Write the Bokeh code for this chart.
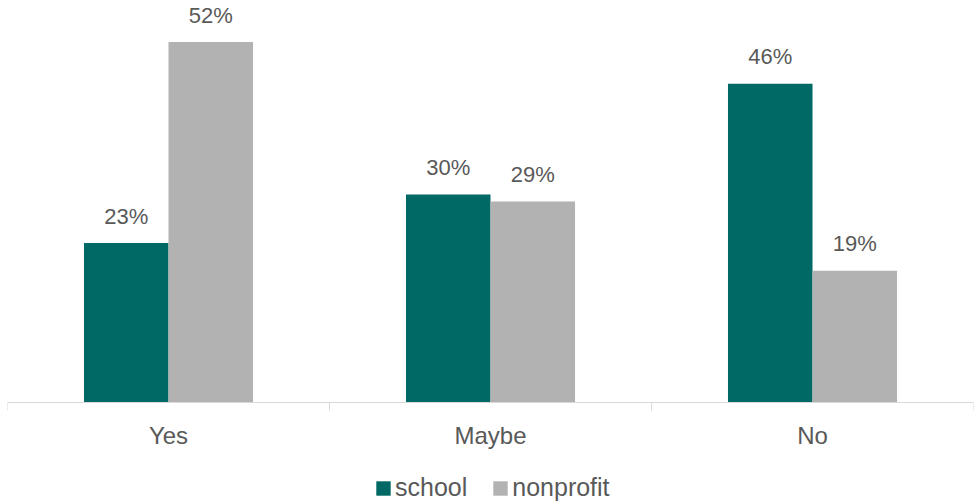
import numpy as np
from bokeh.plotting import figure
from bokeh.models import ColumnDataSource, FixedTicker, Range1d, Legend, LegendItem
from bokeh.core.properties import value
from bokeh.embed import file_html
from bokeh.resources import INLINE

categories = ["Yes", "Maybe", "No"]
school = [23, 30, 46]
nonprofit = [52, 29, 19]
school_labels = ["23%", "30%", "46%"]
nonprofit_labels = ["52%", "29%", "19%"]

TEAL = "#006865"
GRAY = "#B2B2B2"
TXT = "#595959"
FONT = "Liberation Sans"

centers = np.arange(len(categories)) + 0.5
bw = 0.2625
src_s = ColumnDataSource(dict(x=centers - bw / 2, top=school, lab=school_labels))
src_n = ColumnDataSource(dict(x=centers + bw / 2, top=nonprofit, lab=nonprofit_labels))

p = figure(width=974, height=502, output_backend="svg", toolbar_location=None,
           x_range=Range1d(0, len(categories)), y_range=Range1d(-14.43, 58),
           min_border_left=7, min_border_right=1, min_border_top=0, min_border_bottom=0)
p.outline_line_color = None
p.grid.visible = False
p.yaxis.visible = False
p.background_fill_color = "white"
p.border_fill_color = "white"

r1 = p.vbar(x="x", top="top", width=bw, source=src_s, fill_color=TEAL, line_color=None)
r2 = p.vbar(x="x", top="top", width=bw, source=src_n, fill_color=GRAY, line_color=None)

for src in (src_s, src_n):
    p.text(x="x", y="top", text="lab", source=src, text_align="center", text_baseline="alphabetic",
           y_offset=-27, text_font=value(FONT), text_font_size="22px", text_color=TXT)

ax = p.xaxis[0]
ax.fixed_location = 0
ax.ticker = FixedTicker(ticks=list(centers), minor_ticks=list(range(len(categories) + 1)))
ax.major_label_overrides = {float(c): cat for c, cat in zip(centers, categories)}
ax.major_tick_out = 0
ax.major_tick_in = 0
ax.minor_tick_out = 8
ax.minor_tick_in = 0
ax.minor_tick_line_color = "#D9D9D9"
ax.axis_line_color = "#D9D9D9"
ax.axis_line_width = 1
ax.major_label_text_font = FONT
ax.major_label_text_font_size = "24px"
ax.major_label_text_color = TXT
ax.major_label_standoff = 12

legend = Legend(items=[LegendItem(label="school", renderers=[r1]),
                       LegendItem(label="nonprofit", renderers=[r2])],
                orientation="horizontal", location=(367, 0),
                label_text_font=FONT, label_text_font_size="25px", label_text_color=TXT,
                glyph_width=18, glyph_height=18, label_standoff=3, spacing=24, label_height=20,
                border_line_color=None, background_fill_alpha=0, padding=0, margin=0)
p.add_layout(legend)

open("out.html", "w").write(file_html(p, INLINE))
